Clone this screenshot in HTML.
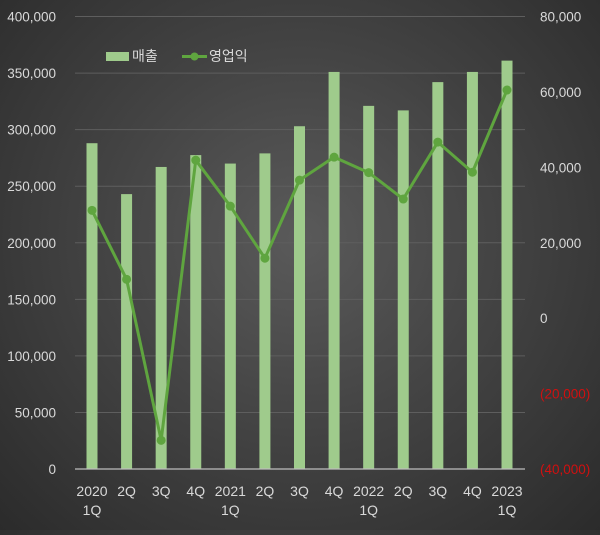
<!DOCTYPE html>
<html><head><meta charset="utf-8"><style>
html,body{margin:0;padding:0}
body{width:600px;height:530px;overflow:hidden;background:radial-gradient(ellipse at 50% 45%,#5a5a5a 0%,#444 45%,#2b2b2b 100%);font-family:"Liberation Sans","Noto Sans CJK KR",sans-serif}
svg text{font-family:"Liberation Sans","Noto Sans CJK KR",sans-serif}
</style></head><body>
<svg id="chart" width="600" height="530" xmlns="http://www.w3.org/2000/svg"></svg>
<script>
const categories=[["2020","1Q"],["2Q"],["3Q"],["4Q"],["2021","1Q"],["2Q"],["3Q"],["4Q"],["2022","1Q"],["2Q"],["3Q"],["4Q"],["2023","1Q"]];
const sales=[288000,243000,267000,277500,270000,279000,303000,351000,321000,317000,342000,351000,361000];
const profit=[28600,10300,-32400,41900,29700,15900,36600,42700,38600,31600,46700,38700,60500];
const leftTicks=[0,50000,100000,150000,200000,250000,300000,350000,400000];
const rightTicks=[-40000,-20000,0,20000,40000,60000,80000];
const NS="http://www.w3.org/2000/svg";
const svg=document.getElementById('chart');
const x0=75,x1=525,yTop=16.5,yBot=469;
const n=categories.length, step=(507-92)/(n-1);
const xPos=i=>92+i*step;
const yL=v=>yBot-(v/400000)*(yBot-yTop);
const yR=v=>yBot-((v+40000)/120000)*(yBot-yTop);
function el(tag,attrs,parent){const e=document.createElementNS(NS,tag);for(const k in attrs)e.setAttribute(k,attrs[k]);(parent||svg).appendChild(e);return e;}
const fmt=v=>v.toLocaleString('en-US');
const grid=el('g',{});


leftTicks.forEach(t=>{if(t>0)el('line',{x1:x0,x2:x1,y1:yL(t),y2:yL(t),stroke:'#5e5e5e','stroke-width':1},grid);});
const la=el('g',{});


leftTicks.forEach(t=>{const tx=el('text',{x:56,y:yL(t)+5,'text-anchor':'end','font-size':13.5,fill:'#d9d9d9'},la);tx.textContent=fmt(t);});
const ra=el('g',{});


rightTicks.forEach(t=>{const tx=el('text',{x:540,y:yR(t)+5,'font-size':13.5,fill:t<0?'#d01010':'#d9d9d9'},ra);tx.textContent=t<0?'('+fmt(-t)+')':fmt(t);});
const bars=el('g',{});


sales.forEach((v,i)=>{const r=el('rect',{x:xPos(i)-5.5,y:yL(v),width:11,height:yBot-yL(v),fill:'#9fcb8c'},bars);

});
el('line',{x1:x0,x2:x1,y1:yBot,y2:yBot,stroke:'#bdbdbd','stroke-width':1.2});
const line=el('g',{});


el('polyline',{points:profit.map((v,i)=>xPos(i)+','+yR(v)).join(' '),fill:'none',stroke:'#5fa53f','stroke-width':3,'stroke-linejoin':'round'},line);
profit.forEach((v,i)=>{const c=el('circle',{cx:xPos(i),cy:yR(v),r:4.5,fill:'#5fa53f'},line);

});
const xa=el('g',{});


categories.forEach((c,i)=>{c.forEach((s,j)=>{const tx=el('text',{x:xPos(i),y:496+j*19,'text-anchor':'middle','font-size':14,fill:'#d9d9d9'},xa);tx.textContent=s;});});
const lg=el('g',{});


el('rect',{x:106,y:52,width:23,height:9,fill:'#9fcb8c'},lg);
const t1=el('text',{x:132,y:61,'font-size':14,fill:'#d9d9d9'},lg);t1.textContent='매출';
el('line',{x1:182,x2:207,y1:56.5,y2:56.5,stroke:'#5fa53f','stroke-width':3},lg);
el('circle',{cx:194.5,cy:56.5,r:4,fill:'#5fa53f'},lg);
const t2=el('text',{x:209,y:61,'font-size':14,fill:'#d9d9d9'},lg);t2.textContent='영업익';
</script>
</body></html>
